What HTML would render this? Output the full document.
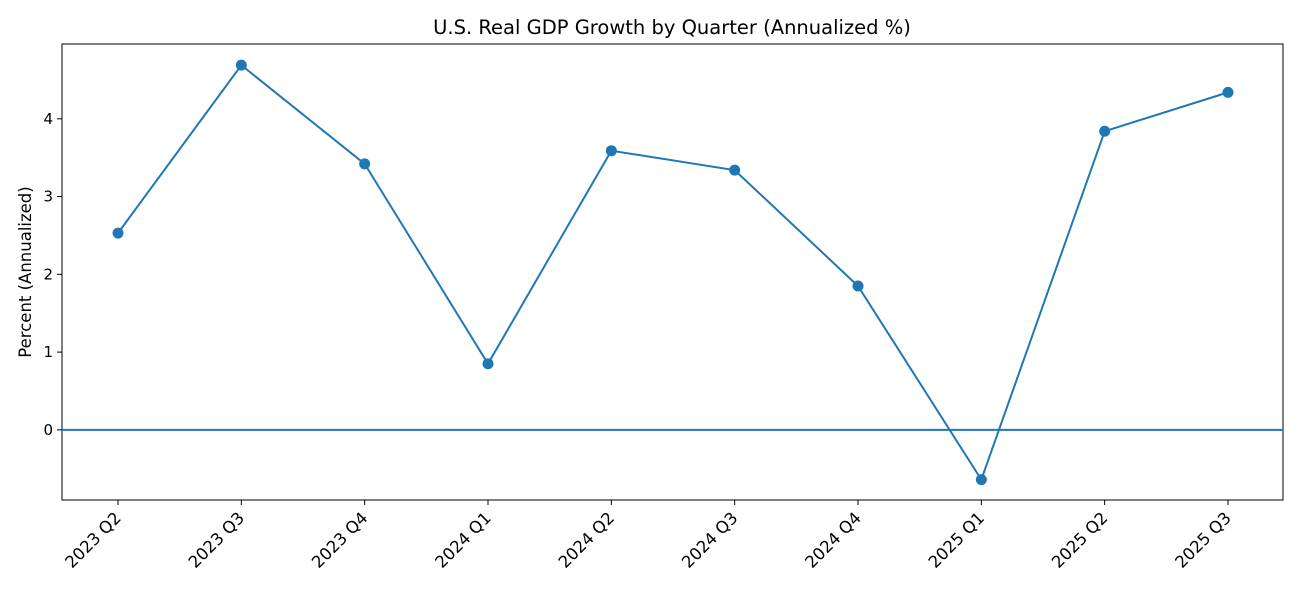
<!DOCTYPE html>
<html><head><meta charset="utf-8"><style>
body{margin:0;background:#fff;font-family:"DejaVu Sans","Liberation Sans",sans-serif;}
</style></head><body>
<svg id="chart" width="1305" height="594" xmlns="http://www.w3.org/2000/svg" font-family="DejaVu Sans, Liberation Sans, sans-serif">
<text x="672" y="34" text-anchor="middle" font-size="19.5" fill="#000">U.S. Real GDP Growth by Quarter (Annualized %)</text>
<text transform="translate(31,272) rotate(-90)" text-anchor="middle" font-size="16.5" fill="#000">Percent (Annualized)</text>
<g id="plot"></g>
</svg>
<script>
const categories=["2023 Q2","2023 Q3","2023 Q4","2024 Q1","2024 Q2","2024 Q3","2024 Q4","2025 Q1","2025 Q2","2025 Q3"];
const values=[2.53,4.69,3.42,0.85,3.59,3.34,1.85,-0.64,3.84,4.34];
const yTicks=[0,1,2,3,4];
const L=62,R=1283,T=44,B=500;
const yMin=-0.902,yMax=4.962;
const x0=118,x1=1228;
function xs(i){return x0+(x1-x0)*i/(categories.length-1);}
function ys(v){return B-(v-yMin)/(yMax-yMin)*(B-T);}
const ns="http://www.w3.org/2000/svg";
const g=document.getElementById('plot');
function mk(t,a){const e=document.createElementNS(ns,t);for(const k in a)e.setAttribute(k,a[k]);g.appendChild(e);return e;}
let e=mk('rect',{x:L,y:T,width:R-L,height:B-T,fill:'none',stroke:'#000','stroke-width':1});


yTicks.forEach(v=>{
 const y=ys(v);
 let t=mk('line',{x1:L-5,x2:L,y1:y,y2:y,stroke:'#000'});
 
 
 let l=mk('text',{x:L-9,y:y+5,'text-anchor':'end','font-size':15});
 l.textContent=v;
 
 
});
categories.forEach((c,i)=>{
 const x=xs(i);
 let t=mk('line',{x1:x,x2:x,y1:B,y2:B+5,stroke:'#000'});
 
 
 let l=mk('text',{transform:`translate(${x+4},${B+19}) rotate(-45)`,'text-anchor':'end','font-size':16.5});
 l.textContent=c;
 
 
});
let z=mk('line',{x1:L,x2:R,y1:ys(0),y2:ys(0),stroke:'#1f77b4','stroke-width':2});


let p=mk('polyline',{points:values.map((v,i)=>xs(i)+','+ys(v)).join(' '),fill:'none',stroke:'#1f77b4','stroke-width':2});


values.forEach((v,i)=>{
 let c=mk('circle',{cx:xs(i),cy:ys(v),r:5.5,fill:'#1f77b4'});
 
 
});
</script>
</body></html>
